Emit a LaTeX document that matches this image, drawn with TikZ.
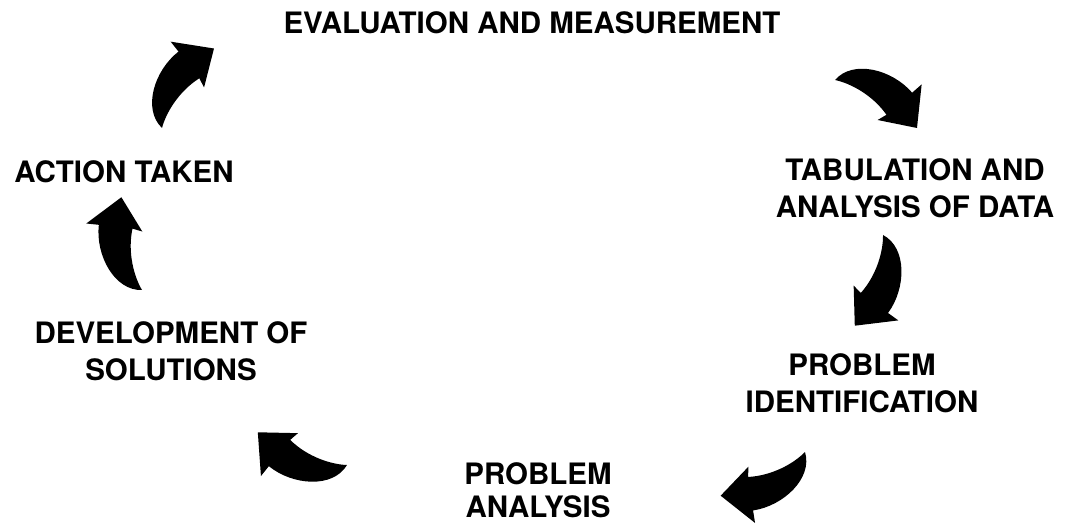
\documentclass[tikz,border=0pt]{standalone}
\usepackage{fontspec}
\setmainfont{TeX Gyre Heros}
\usetikzlibrary{calc}

\tikzset{
  stage/.style={font=\bfseries\fontsize{29.5}{37}\selectfont, align=center, inner sep=0pt},
  pics/bendarrow/.style={code={
    \fill[black] (0,0) .. controls (5,27) and (44,38) .. (73,28) -- (77,40) -- (95,0)
      -- (57,-13) -- (62,-4) .. controls (40,6) and (15,5) .. cycle;
  }}
}

% block arrow from tail coordinate to tip coordinate
\newcommand{\cyclearrow}[2]{%
  \path let \p1=($(#2)-(#1)$), \n1={atan2(\y1,\x1)} in (#1) pic[rotate=\n1] {bendarrow};}

\begin{document}
\begin{tikzpicture}[x=1pt,y=1pt]

\useasboundingbox (0,0) rectangle (1071,-526);

\node[stage] (eval) at (532,-23) {EVALUATION AND MEASUREMENT};
\node[stage] (tab) at (915,-188) {TABULATION AND\\ANALYSIS OF DATA};
\node[stage] (pid) at (862,-383) {PROBLEM\\IDENTIFICATION};
\node[stage, font=\bfseries\fontsize{29.5}{33}\selectfont] (pan) at (538,-490) {PROBLEM\\ANALYSIS};
\node[stage] (dev) at (171,-351) {DEVELOPMENT OF\\SOLUTIONS};
\node[stage] (act) at (124,-172) {ACTION TAKEN};

%% arrow tails and tips
\coordinate (t1) at (162,-128);  \coordinate (h1) at (213,-50);
\coordinate (t2) at (835,-80);   \coordinate (h2) at (917,-128);
\coordinate (t3) at (883,-235);  \coordinate (h3) at (855,-325);
\coordinate (t4) at (805,-452);  \coordinate (h4) at (722,-495);
\coordinate (t5) at (347,-465);  \coordinate (h5) at (257,-432);
\coordinate (t6) at (142,-290);  \coordinate (h6) at (122,-200);

\cyclearrow{t1}{h1}
\cyclearrow{t2}{h2}
\cyclearrow{t3}{h3}
\cyclearrow{t4}{h4}
\cyclearrow{t5}{h5}
\cyclearrow{t6}{h6}

\end{tikzpicture}
\end{document}
